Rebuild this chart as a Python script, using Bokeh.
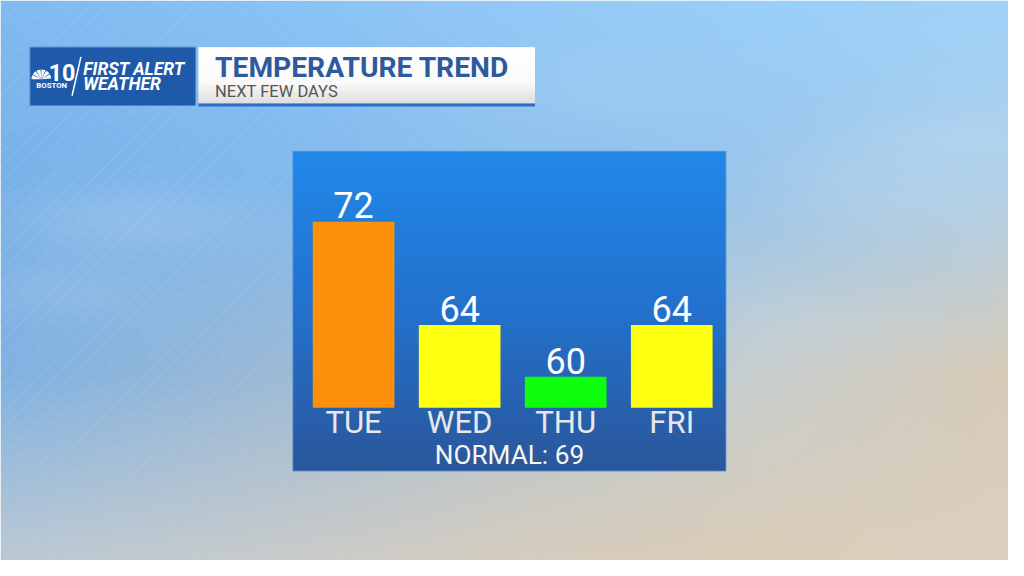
import numpy as np
from bokeh.plotting import figure
from bokeh.models import Range1d
from bokeh.core.properties import value
from bokeh.embed import file_html
from bokeh.resources import INLINE

# ---------------- data ----------------
days = ["TUE", "WED", "THU", "FRI"]
temps = [72, 64, 60, 64]
bar_colors = ["#fd900c", "#ffff12", "#0eff0e", "#ffff12"]
normal_label = "NORMAL: 69"
title_text = "TEMPERATURE TREND"
subtitle_text = "NEXT FEW DAYS"
brand_line1 = "FIRST ALERT"
brand_line2 = "WEATHER"
station_num = "10"
station_city = "BOSTON"

# ---------------- layout: reference px (1024x576, y down) mapped onto figure ----------------
RW, RH = 1024, 576
W, H = 1008, 560
SY = H / RH
FONT = value("Roboto")
BL = 0.37  # baseline correction (em) for svg text


def Y(py):
    return RH - py


def fs(px):
    return value(f"{px * SY:.1f}px")


def yoff(px, extra=0.0):
    # shift an alphabetic baseline up so it lands on the intended line
    return -BL * px * SY + extra * SY


p = figure(width=W, height=H, output_backend="svg", toolbar_location=None,
           x_range=Range1d(0, RW), y_range=Range1d(0, RH),
           min_border=0, min_border_left=0, min_border_right=0,
           min_border_top=0, min_border_bottom=0)
p.axis.visible = False
p.grid.visible = False
p.outline_line_color = None
p.background_fill_color = None
p.border_fill_color = None

# slot range for bars: centre px = 358.7 + 107.74*i
C0, STEP = 358.7, 107.74
p.extra_x_ranges = {"slot": Range1d((0 - C0) / STEP, (RW - C0) / STEP)}
# temperature range: baseline at py=419
BASE, SCALE, BASE_PY = 57.6, 13.3, 419.0
p.extra_y_ranges = {"temp": Range1d(BASE - (RH - BASE_PY) / SCALE, BASE + BASE_PY / SCALE)}


def hexrgb(h):
    h = h.lstrip("#")
    return [int(h[i:i + 2], 16) for i in (0, 2, 4)]


def to_rgba(arr, alpha=255):
    h, w, _ = arr.shape
    out = np.empty((h, w, 4), dtype=np.uint8)
    out[..., :3] = np.clip(arr, 0, 255).astype(np.uint8)
    out[..., 3] = alpha
    return out[::-1].copy().view(dtype=np.uint32).reshape(h, w)


# ---------------- sky background ----------------
ctrl_x = np.array([0, 256, 512, 768, 1024], float)
ctrl_y = np.array([0, 192, 384, 576], float)
ctrl = np.array([
    [hexrgb(c) for c in ["#7fbaf1", "#88c1f4", "#92c9f7", "#9acff9", "#a0d2f9"]],
    [hexrgb(c) for c in ["#78b1e8", "#80b8ec", "#8fc0ec", "#98c4ea", "#b0d0e8"]],
    [hexrgb(c) for c in ["#80b2e2", "#9ab9d6", "#b2c4d0", "#c8cfcf", "#d8cbb8"]],
    [hexrgb(c) for c in ["#bcc9d3", "#c8cbcb", "#d6cdbf", "#dccdb8", "#dcd0bf"]],
], float)
xs = (np.arange(W) + 0.5) * RW / W
ys = (np.arange(H) + 0.5) * RH / H
rows = np.stack([np.stack([np.interp(xs, ctrl_x, ctrl[r, :, ch]) for ch in range(3)], -1)
                 for r in range(4)])  # (4, W, 3)
idx = np.clip(np.searchsorted(ctrl_y, ys) - 1, 0, 2)
t = ((ys - ctrl_y[idx]) / 192.0)[:, None, None]
sky = rows[idx] * (1 - t) + rows[idx + 1] * t
xx, yy = np.meshgrid(xs, ys)
# soft clouds
for cx, cy, sx, sy, st in [(130, 225, 120, 35, 0.16), (60, 300, 90, 30, 0.10),
                           (880, 190, 130, 45, 0.14), (960, 140, 80, 25, 0.10),
                           (830, 330, 110, 40, 0.08), (620, 90, 140, 40, 0.08)]:
    g = st * np.exp(-(((xx - cx) / sx) ** 2 + ((yy - cy) / sy) ** 2))
    sky = sky * (1 - g[..., None]) + 240 * g[..., None]
# diagonal stripes on the left
s = (xx + yy) % 15.0
inten = np.clip(1 - np.abs(s - 7.5) / 1.0, 0, 1)
fade = np.clip((700 - xx) / 500.0, 0, 1)
a = (0.34 * inten * fade)[..., None]
sky = sky * (1 - a) + np.array([180, 220, 253]) * a
p.image_rgba(image=[to_rgba(sky)], x=0, y=0, dw=RW, dh=RH)

# ---------------- panel ----------------
PX0, PX1, PY0, PY1 = 297, 737, 155, 484
npy = int(round((PY1 - PY0) * SY))
pys = PY0 + (np.arange(npy) + 0.5) / SY
stops_y = [PY0, 320, PY1]
stops = np.array([hexrgb("#2189e9"), hexrgb("#2371cd"), hexrgb("#2b579b")], float)
col = np.stack([np.interp(pys, stops_y, stops[:, ch]) for ch in range(3)], -1)
panel = np.repeat(col[:, None, :], 8, axis=1)
p.image_rgba(image=[to_rgba(panel)], x=PX0, y=Y(PY1), dw=PX1 - PX0, dh=PY1 - PY0)
p.quad(left=PX0, right=PX1, bottom=Y(PY1), top=Y(PY0), fill_color=None,
       line_color="#5b9ad8", line_width=1, line_alpha=0.8)

# ---------------- header ----------------
p.quad(left=30, right=198, bottom=Y(108), top=Y(48), fill_color="#1e5aa9",
       line_color="#4a80c4", line_width=1)
TX0, TX1, TY0, TY1 = 201, 543, 48, 106
tys = np.arange(TY0, TY1) + 0.5
tcol = np.stack([np.interp(tys, [TY0, 85, TY1], [255, 250, 222]) for _ in range(3)], -1)
tbox = np.repeat(tcol[:, None, :], 8, axis=1)
p.image_rgba(image=[to_rgba(tbox)], x=TX0, y=Y(TY1), dw=TX1 - TX0, dh=TY1 - TY0)
p.quad(left=TX0, right=TX1, bottom=Y(109), top=Y(106), fill_color="#2c6ccb", line_color=None)

p.text(x=[218], y=[Y(80)], text=[title_text], text_font=FONT, text_font_style="bold",
       text_font_size=fs(29), y_offset=yoff(29), text_color="#2d5a9c",
       text_baseline="alphabetic", text_align="left")
p.text(x=[218], y=[Y(100)], text=[subtitle_text], text_font=FONT,
       text_font_size=fs(17), y_offset=yoff(17), text_color="#555555",
       text_baseline="alphabetic", text_align="left")

# peacock fan
fan_start = [5, 35, 65, 95, 125, 155]
p.wedge(x=[41.5] * 6, y=[Y(81)] * 6, radius=10, start_angle=fan_start,
        end_angle=[a_ + 25 for a_ in fan_start], start_angle_units="deg",
        end_angle_units="deg", fill_color="white", line_color=None)
p.text(x=[49], y=[Y(83)], text=[station_num], text_font=FONT, text_font_style="bold",
       text_font_size=fs(24), y_offset=yoff(24), text_color="white",
       text_baseline="alphabetic", text_align="left")
p.text(x=[52], y=[Y(90)], text=[station_city], text_font=FONT, text_font_style="bold",
       text_font_size=fs(8), y_offset=yoff(8), text_color="white",
       text_baseline="alphabetic", text_align="center")
p.line(x=[72.7, 81.7], y=[Y(98), Y(58)], line_color="white", line_width=1.5)
p.text(x=[84, 84], y=[Y(77), Y(93)], text=[brand_line1, brand_line2], text_font=FONT,
       text_font_style="bold italic", text_font_size=fs(18), y_offset=yoff(18),
       text_color="white", text_baseline="alphabetic", text_align="left")

# ---------------- bars ----------------
slots = list(range(len(days)))
p.vbar(x=slots, width=0.77, bottom=BASE, top=temps, x_range_name="slot",
       y_range_name="temp", fill_color=bar_colors, line_color=None)
p.text(x=slots, y=temps, text=[str(v) for v in temps], x_range_name="slot",
       y_range_name="temp", text_font=FONT, text_font_size=fs(37),
       text_color="white", text_align="center", text_baseline="alphabetic",
       y_offset=yoff(37, -3))
p.text(x=slots, y=[BASE] * len(days), text=days, x_range_name="slot",
       y_range_name="temp", text_font=FONT, text_font_size=fs(32),
       text_color="#e8e8e8", text_align="center", text_baseline="alphabetic",
       y_offset=yoff(32, 27))
p.text(x=[517], y=[Y(477)], text=[normal_label], text_font=FONT,
       text_font_size=fs(27), y_offset=yoff(27), text_color="#f6f6f6",
       text_align="center", text_baseline="alphabetic")

open("out.html", "w").write(file_html(p, INLINE))
